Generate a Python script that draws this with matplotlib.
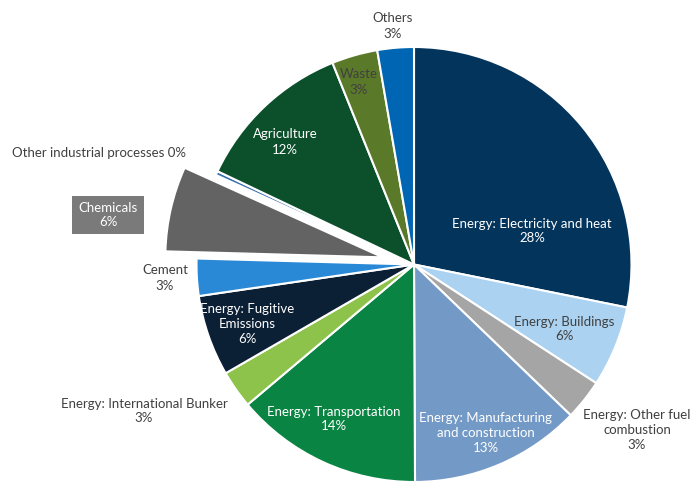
import matplotlib.pyplot as plt

# Sectores y participacion (%) en las emisiones
sectores = [
    "Energy: Electricity and heat",
    "Energy: Buildings",
    "Energy: Other fuel\ncombustion",
    "Energy: Manufacturing\nand construction",
    "Energy: Transportation",
    "Energy: International Bunker",
    "Energy: Fugitive\nEmissions",
    "Cement",
    "Chemicals",
    "Other industrial processes",
    "Agriculture",
    "Waste",
    "Others",
]
valores = [28.1, 6.0, 3.0, 12.7, 13.9, 2.8, 6.0, 2.75, 6.3, 0.3, 11.8, 3.4, 2.7]

colores = ["#03345c", "#abd2f0", "#a5a5a5", "#7399c6", "#0a8443", "#8dc24b",
           "#0b1f35", "#2a89d6", "#636363", "#3a6fb0", "#0b4f2b", "#5a7a2a",
           "#0066b3"]

# Posicion (px) y color de cada etiqueta
pos_etiquetas = [(532, 231), (564, 329), (637, 430), (486, 433), (334, 419),
                 (144, 411), (247, 324), (165, 278), (108, 215), (99, 153),
                 (285, 142), (359, 82), (393, 26)]
color_texto = ["white", "#404040", "#404040", "white", "white", "#404040",
               "white", "#404040", "white", "#404040", "white", "#404040",
               "#404040"]

plt.rcParams["font.family"] = ["Lato", "DejaVu Sans"]

fig = plt.figure(figsize=(6.91, 4.83), dpi=100)
ax = fig.add_axes([0, 0, 1, 1])

radio = 217.5
# explode de matplotlib va en unidades de datos, no en fraccion del radio
separar = [0.147 * radio if s == "Chemicals" else 0 for s in sectores]

ax.pie(valores, colors=colores, startangle=90, counterclock=False,
       center=(414, 483 - 264.5), radius=radio, explode=separar,
       wedgeprops=dict(edgecolor="white", linewidth=1.5), frame=True)
ax.set_xlim(0, 691)
ax.set_ylim(0, 483)
ax.set_aspect("equal")
ax.axis("off")

for nombre, v, (x, y), c in zip(sectores, valores, pos_etiquetas, color_texto):
    if nombre == "Other industrial processes":
        texto = "%s %.0f%%" % (nombre, v)
    else:
        texto = "%s\n%.0f%%" % (nombre, v)
    caja = None
    if nombre == "Chemicals":
        caja = dict(boxstyle="square,pad=0.45", facecolor="#7a7a7a", edgecolor="none")
    ax.text(x, 483 - y, texto, ha="center", va="center", fontsize=9.5,
            color=c, linespacing=1.3, bbox=caja)

plt.savefig("out.png", dpi=100)
